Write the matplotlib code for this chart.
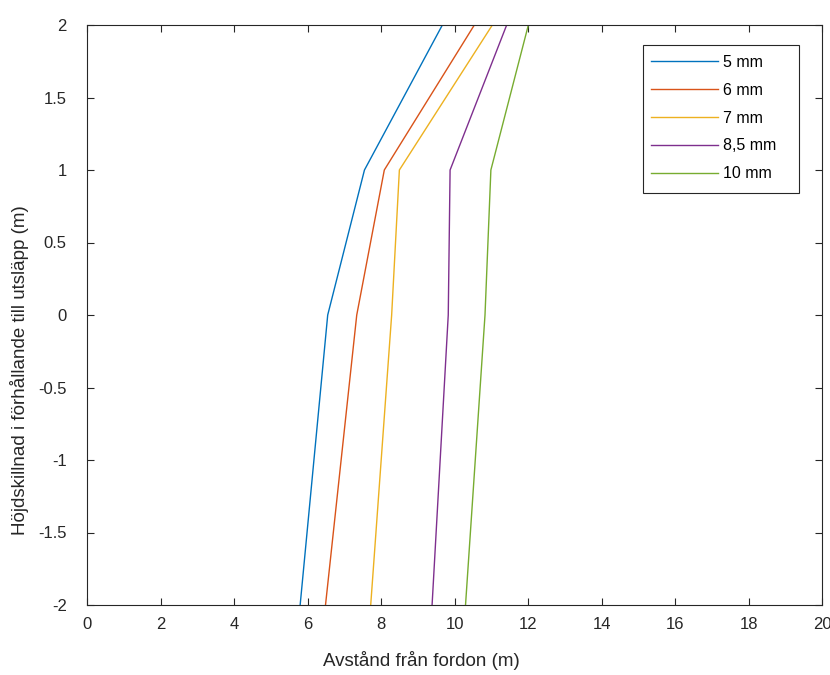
import matplotlib
matplotlib.use("Agg")
import matplotlib.pyplot as plt
from matplotlib.patches import Rectangle

# Height levels (m) and distance (m) for each diameter
heights = [-2, 0, 1, 2]
dist_5mm = [5.80, 6.55, 7.55, 9.67]
dist_6mm = [6.49, 7.34, 8.09, 10.54]
dist_7mm = [7.72, 8.29, 8.50, 11.03]
dist_85mm = [9.39, 9.83, 9.88, 11.42]
dist_10mm = [10.30, 10.83, 10.99, 12.01]
labels = ["5 mm", "6 mm", "7 mm", "8,5 mm", "10 mm"]

colors = ["#0072BD", "#D95319", "#EDB120", "#7E2F8E", "#77AC30"]

plt.rcParams['font.family'] = ['Liberation Sans', 'DejaVu Sans']

W, H = 830, 675
fig = plt.figure(figsize=(W / 100, H / 100), dpi=100)
ax = fig.add_axes([87 / W, 70 / H, 735 / W, 580 / H])

for xs, lab, c in zip([dist_5mm, dist_6mm, dist_7mm, dist_85mm, dist_10mm], labels, colors):
    ax.plot(xs, heights, color=c, lw=1.0, label=lab)

ax.set_xlim(0, 20)
ax.set_ylim(-2, 2)
ax.set_xticks(range(0, 21, 2))
ax.set_yticks([-2, -1.5, -1, -0.5, 0, 0.5, 1, 1.5, 2])
ax.set_yticklabels(["-2", "-1.5", "-1", "-0.5", "0", "0.5", "1", "1.5", "2"])

axcol = "#262626"
for s in ax.spines.values():
    s.set_color(axcol)
    s.set_linewidth(0.8)
ax.tick_params(direction="in", top=True, right=True, length=5, width=0.8,
               color=axcol, labelcolor=axcol, labelsize=12)
ax.tick_params(axis="x", pad=8.5)
ax.tick_params(axis="y", pad=14.5)

ax.set_xlabel("Avstånd från fordon (m)", fontsize=13.5, color=axcol, va="center")
ax.xaxis.set_label_coords((421 - 87) / 735, (605 - 660) / 580)
ax.set_ylabel("Höjdskillnad i förhållande till utsläpp (m)", fontsize=13.5, color=axcol, va="center")
ax.yaxis.set_label_coords((19 - 87) / 735, (605 - 370) / 580)

# legend box drawn by hand (MATLAB leaves extra space on the right)
fig.patches.append(Rectangle((643 / W, (H - 193) / H), 156 / W, 148 / H,
                             transform=fig.transFigure, fill=False,
                             edgecolor=axcol, lw=0.8))
leg = ax.legend(loc="upper left", bbox_to_anchor=(651 / W, (H - 55) / H),
                bbox_transform=fig.transFigure, fontsize=11.5, frameon=False,
                handlelength=4.2, labelspacing=0.8, borderpad=0,
                borderaxespad=0, handletextpad=0.3)

fig.savefig("out.png", dpi=100)
